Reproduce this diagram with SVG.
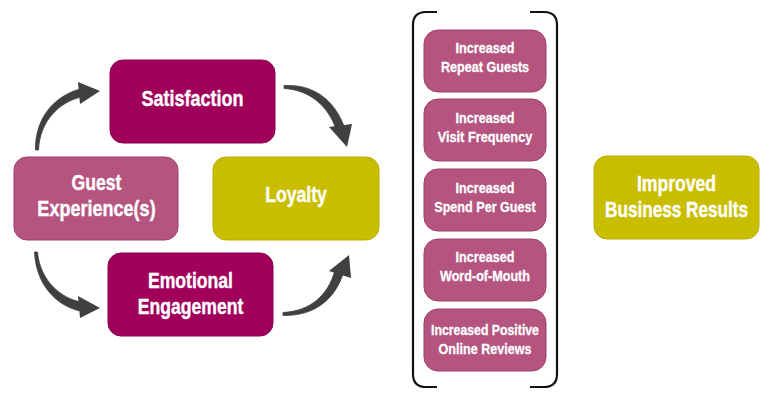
<svg xmlns="http://www.w3.org/2000/svg" width="770" height="401" viewBox="0 0 770 401">
<style>
.t{font-family:"Liberation Sans",Arial,sans-serif;font-weight:bold;fill:#fff;text-anchor:middle;stroke:#fff;stroke-width:0.4}
.big{font-size:22px}
.sm{font-size:15px;stroke-width:0.3}
.dark{fill:#A0005A;stroke:#8E0050;stroke-width:1}
.pink{fill:#B4547F;stroke:#A0406C;stroke-width:1}
.olive{fill:#C9BD00;stroke:#B8AD00;stroke-width:1}
.body{fill:#404040;stroke:#404040;stroke-width:0.8;stroke-linejoin:round}
.head{fill:#404040}
.br{fill:none;stroke:#111;stroke-width:2.2}
</style>
<rect width="770" height="401" fill="#fff"/>
<g id="connectors">
<path class="body" d="M35.5,150 C35,117 55,96 80,89 L81,97 C60,102 40,120 38.5,150 Z"/>
<polygon class="head" points="78,82 100,91 80,104"/>
<path class="body" d="M284,85.5 C314,84 334,100 344,126 L336,129 C328,106 310,90 284,88.5 Z"/>
<polygon class="head" points="329,127 347,147 352,124"/>
<path class="body" d="M34.5,252 C36,284 55,305 80,311 L81,302 C60,298 40,280 37.5,252 Z"/>
<polygon class="head" points="78,296 100,308 80,318"/>
<path class="body" d="M283,315.5 C313,316 334,301 343,274 L335,270 C328,296 310,311 283,312.5 Z"/>
<polygon class="head" points="329,271 349,255 351,278"/>
</g>
<g id="satisfaction">
<rect class="dark" x="110" y="60" width="165" height="83" rx="13"/>
<text class="t big" transform="translate(192.5,106) scale(0.82,1)">Satisfaction</text>
</g>
<g id="guest-experience">
<rect class="pink" x="14" y="157" width="164" height="83" rx="13"/>
<text class="t big" transform="translate(96.5,190) scale(0.8,1)">Guest</text>
<text class="t big" transform="translate(96.5,216) scale(0.82,1)">Experience(s)</text>
</g>
<g id="loyalty">
<rect class="olive" x="213" y="157" width="166" height="83" rx="13"/>
<text class="t big" transform="translate(296,202) scale(0.8,1)">Loyalty</text>
</g>
<g id="emotional-engagement">
<rect class="dark" x="108" y="253" width="165" height="83" rx="13"/>
<text class="t big" transform="translate(190.5,288) scale(0.8,1)">Emotional</text>
<text class="t big" transform="translate(190.5,314) scale(0.8,1)">Engagement</text>
</g>
<g id="bracket">
<path class="br" d="M437,12 L426,12 Q413,12 413,25 L413,374 Q413,387 426,387 L437,387"/>
<path class="br" d="M530,12 L544,12 Q557,12 557,25 L557,374 Q557,387 544,387 L530,387"/>
</g>
<g id="repeat-guests">
<rect class="pink" x="424" y="30" width="122" height="62" rx="14"/>
<text class="t sm" transform="translate(485,53) scale(0.84,1)">Increased</text>
<text class="t sm" transform="translate(485,72) scale(0.84,1)">Repeat Guests</text>
</g>
<g id="visit-frequency">
<rect class="pink" x="424" y="99" width="122" height="62" rx="14"/>
<text class="t sm" transform="translate(485,123) scale(0.84,1)">Increased</text>
<text class="t sm" transform="translate(485,142) scale(0.85,1)">Visit Frequency</text>
</g>
<g id="spend-per-guest">
<rect class="pink" x="424" y="169" width="122" height="62" rx="14"/>
<text class="t sm" transform="translate(485,193) scale(0.84,1)">Increased</text>
<text class="t sm" transform="translate(485,212) scale(0.84,1)">Spend Per Guest</text>
</g>
<g id="word-of-mouth">
<rect class="pink" x="424" y="239" width="122" height="62" rx="14"/>
<text class="t sm" transform="translate(485,262) scale(0.84,1)">Increased</text>
<text class="t sm" transform="translate(485,281) scale(0.84,1)">Word-of-Mouth</text>
</g>
<g id="online-reviews">
<rect class="pink" x="424" y="309" width="122" height="62" rx="14"/>
<text class="t sm" transform="translate(485,335) scale(0.82,1)">Increased Positive</text>
<text class="t sm" transform="translate(485,354) scale(0.84,1)">Online Reviews</text>
</g>
<g id="business-results">
<rect class="olive" x="594" y="156" width="165" height="83" rx="13"/>
<text class="t big" transform="translate(676.5,191) scale(0.8,1)">Improved</text>
<text class="t big" transform="translate(676.5,217) scale(0.78,1)">Business Results</text>
</g>
</svg>
